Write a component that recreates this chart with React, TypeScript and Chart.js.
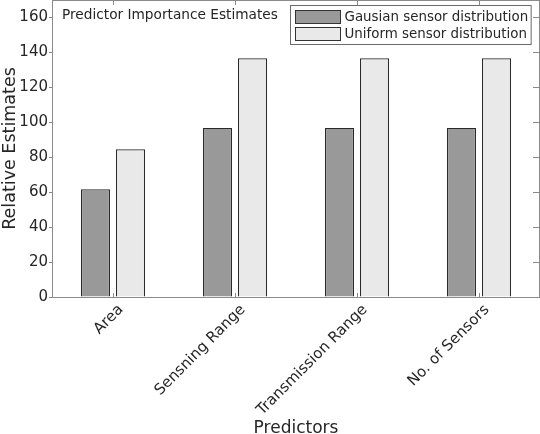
import React, { useEffect, useRef } from "react";
import { Chart, registerables } from "chart.js";

Chart.register(...registerables);

const categories = ["Area", "Sensning Range", "Transmission Range", "No. of Sensors"];
const gaussianValues = [61.7, 96.8, 96.8, 96.8];
const uniformValues = [84.6, 136.6, 136.6, 136.6];
const seriesLabels = ["Gausian sensor distribution", "Uniform sensor distribution"];
const yTicks = [0, 20, 40, 60, 80, 100, 120, 140, 160];
const plotTitle = "Predictor Importance Estimates";

const FONT = "'DejaVu Sans', Verdana, sans-serif";
const AXIS = "#8a8a8a";
const TEXT = "#262626";

const decorPlugin = {
  id: "decor",
  afterDraw(chart: any) {
    const { ctx, chartArea } = chart;
    const xs = chart.scales.x;
    const ys = chart.scales.y;
    ctx.save();
    ctx.strokeStyle = AXIS;
    ctx.lineWidth = 1;
    // top + right border
    ctx.beginPath();
    ctx.moveTo(chartArea.left, chartArea.top + 0.5);
    ctx.lineTo(chartArea.right, chartArea.top + 0.5);
    ctx.moveTo(chartArea.right - 0.5, chartArea.top);
    ctx.lineTo(chartArea.right - 0.5, chartArea.bottom);
    ctx.stroke();
    // inward category ticks top and bottom
    ctx.beginPath();
    categories.forEach((_, i) => {
      const x = Math.round(xs.getPixelForValue(i)) + 0.5;
      ctx.moveTo(x, chartArea.top);
      ctx.lineTo(x, chartArea.top + 5);
      ctx.moveTo(x, chartArea.bottom);
      ctx.lineTo(x, chartArea.bottom - 4);
    });
    // inward right ticks
    yTicks.forEach((v) => {
      const y = Math.round(ys.getPixelForValue(v)) + 0.5;
      ctx.moveTo(chartArea.right, y);
      ctx.lineTo(chartArea.right - 7, y);
    });
    ctx.stroke();

    // title
    ctx.fillStyle = TEXT;
    ctx.font = `13.7px ${FONT}`;
    ctx.textBaseline = "middle";
    ctx.textAlign = "left";
    ctx.fillText(plotTitle, chartArea.left + 10, chartArea.top + 15);

    // legend
    ctx.font = `13.4px ${FONT}`;
    const tw = Math.max(...seriesLabels.map((s) => ctx.measureText(s).width));
    const patchW = 45;
    const boxW = 5 + patchW + 4 + tw + 3;
    const boxH = 39;
    const bx = Math.round(chartArea.right - 9 - boxW) + 0.5;
    const by = chartArea.top + 5.5;
    ctx.fillStyle = "#ffffff";
    ctx.fillRect(bx, by, boxW, boxH);
    ctx.strokeStyle = "#6a6a6a";
    ctx.strokeRect(bx, by, boxW, boxH);
    chart.data.datasets.forEach((ds: any, i: number) => {
      const py = by + 5 + i * 17;
      ctx.fillStyle = ds.backgroundColor;
      ctx.fillRect(bx + 5, py, patchW, 13);
      ctx.strokeStyle = "#333333";
      ctx.strokeRect(bx + 5, py, patchW, 13);
      ctx.fillStyle = TEXT;
      ctx.fillText(ds.label, bx + 5 + patchW + 4, py + 7);
    });
    ctx.restore();
  },
};

export default function App() {
  const ref = useRef<HTMLCanvasElement | null>(null);
  useEffect(() => {
    document.body.style.margin = "0";
    document.body.style.overflow = "hidden";
    const chart = new Chart(ref.current as HTMLCanvasElement, {
      type: "bar",
      data: {
        labels: categories,
        datasets: [
          {
            label: seriesLabels[0],
            data: gaussianValues,
            backgroundColor: "#999999",
            borderColor: "#2a2a2a",
            borderWidth: 1.2,
          },
          {
            label: seriesLabels[1],
            data: uniformValues,
            backgroundColor: "#e9e9e9",
            borderColor: "#2a2a2a",
            borderWidth: 1.2,
          },
        ],
      },
      options: {
        animation: false,
        responsive: true,
        maintainAspectRatio: false,
        layout: { padding: 0, autoPadding: false },
        datasets: { bar: { categoryPercentage: 0.575, barPercentage: 0.83 } },
        plugins: {
          legend: { display: false },
          tooltip: { enabled: false },
        },
        scales: {
          x: {
            grid: { display: false, drawTicks: false },
            border: { display: true, color: AXIS },
            ticks: {
              color: TEXT,
              font: { family: FONT, size: 15 },
              maxRotation: 45,
              minRotation: 45,
              padding: 4,
              labelOffset: 8,
            },
            title: {
              display: true,
              text: "Predictors",
              color: TEXT,
              font: { family: FONT, size: 17 },
              padding: { top: 0, bottom: -5 },
            },
            afterFit(scale: any) {
              scale.height = 137;
              scale.paddingLeft = 0;
              scale.paddingRight = 0;
            },
          },
          y: {
            min: 0,
            max: 170,
            grid: { drawOnChartArea: false, drawTicks: true, tickLength: 3, color: AXIS },
            border: { display: true, color: AXIS },
            ticks: {
              stepSize: 20,
              color: TEXT,
              font: { family: FONT, size: 15 },
              padding: 1,
            },
            afterBuildTicks(scale: any) {
              scale.ticks = yTicks.map((v) => ({ value: v }));
            },
            title: {
              display: true,
              text: "Relative Estimates",
              color: TEXT,
              font: { family: FONT, size: 17.5 },
              padding: { top: 0, bottom: 0 },
            },
            afterFit(scale: any) {
              scale.width = 52;
              scale.paddingTop = 0;
              scale.paddingBottom = 0;
            },
          },
        },
      },
      plugins: [decorPlugin],
    });
    return () => chart.destroy();
  }, []);
  return (
    <div style={{ position: "relative", width: 540, height: 434 }}>
      <canvas ref={ref} />
    </div>
  );
}
